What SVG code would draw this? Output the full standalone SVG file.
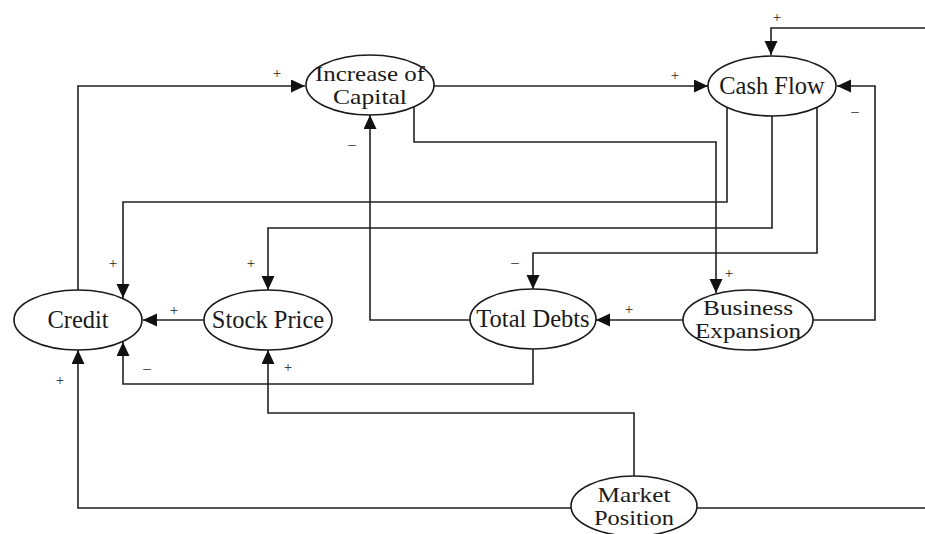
<svg xmlns="http://www.w3.org/2000/svg" width="925" height="534" viewBox="0 0 925 534">
  <style>
    .node ellipse { fill: #ffffff; stroke: #1a1a1a; stroke-width: 1.6; }
    .node text { font-family: "Liberation Serif", "Times New Roman", serif; font-size: 24.5px; fill: #1a1a1a; text-anchor: middle; }
    .node text.two { font-size: 21.5px; }
    .edge { fill: none; stroke: #222222; stroke-width: 1.6; marker-end: url(#arrow); }
    .sign { font-family: "Liberation Serif", "Times New Roman", serif; font-size: 15px; fill: #222222; text-anchor: middle; }
  </style>
  <defs>
    <marker id="arrow" markerUnits="userSpaceOnUse" markerWidth="15" markerHeight="14" refX="14" refY="6.5" orient="auto">
      <path d="M0,0 L14,6.5 L0,13 Z" fill="#111111"/>
    </marker>
  </defs>
  <rect width="925" height="534" fill="#ffffff"/>

  <!-- causal links -->
  <g id="connectors">
    <path class="edge" d="M78,290 V86 H305"/>
    <path class="edge" d="M434,86 H708"/>
    <path class="edge" d="M414,107 V142 H716 V293"/>
    <path class="edge" d="M727,107 V202 H123 V298"/>
    <path class="edge" d="M772,116 V228 H268 V290"/>
    <path class="edge" d="M817,107 V253 H533 V289"/>
    <path class="edge" d="M813,320 H875 V86 H837"/>
    <path class="edge" d="M683,320 H596"/>
    <path class="edge" d="M470,320 H370 V115"/>
    <path class="edge" d="M204,320 H143"/>
    <path class="edge" d="M533,349 V384 H123 V342"/>
    <path class="edge" d="M634,477 V413 H268 V350"/>
    <path class="edge" d="M571,508 H78 V350"/>
    <path class="edge" d="M697,508 H935 V28 H771 V55"/>
  </g>

  <!-- polarity signs -->
  <g id="signs">
    <text class="sign" x="277" y="78">+</text>
    <text class="sign" x="675" y="80">+</text>
    <text class="sign" x="777" y="22">+</text>
    <text class="sign" x="855" y="116">–</text>
    <text class="sign" x="352" y="149">–</text>
    <text class="sign" x="113" y="268">+</text>
    <text class="sign" x="251" y="268">+</text>
    <text class="sign" x="515" y="267">–</text>
    <text class="sign" x="729" y="278">+</text>
    <text class="sign" x="629" y="314">+</text>
    <text class="sign" x="174" y="315">+</text>
    <text class="sign" x="147" y="373">–</text>
    <text class="sign" x="288" y="372">+</text>
    <text class="sign" x="60" y="385">+</text>
  </g>

  <g id="increase-of-capital" class="node">
    <ellipse cx="370" cy="85" rx="64" ry="30"/>
    <text class="two" x="370" y="81" textLength="110" lengthAdjust="spacingAndGlyphs">Increase of</text>
    <text class="two" x="370" y="104" textLength="74" lengthAdjust="spacingAndGlyphs">Capital</text>
  </g>
  <g id="cash-flow" class="node">
    <ellipse cx="772" cy="86" rx="64" ry="30"/>
    <text x="772" y="94">Cash Flow</text>
  </g>
  <g id="credit" class="node">
    <ellipse cx="78" cy="320" rx="64" ry="30"/>
    <text x="78" y="328">Credit</text>
  </g>
  <g id="stock-price" class="node">
    <ellipse cx="268" cy="320" rx="64" ry="30"/>
    <text x="268" y="328">Stock Price</text>
  </g>
  <g id="total-debts" class="node">
    <ellipse cx="533" cy="319" rx="63" ry="30"/>
    <text x="533" y="327">Total Debts</text>
  </g>
  <g id="business-expansion" class="node">
    <ellipse cx="748" cy="320" rx="65" ry="30"/>
    <text class="two" x="748" y="315" textLength="90" lengthAdjust="spacingAndGlyphs">Business</text>
    <text class="two" x="748" y="338" textLength="106" lengthAdjust="spacingAndGlyphs">Expansion</text>
  </g>
  <g id="market-position" class="node">
    <ellipse cx="634" cy="506" rx="63" ry="30"/>
    <text class="two" x="634" y="502" textLength="73" lengthAdjust="spacingAndGlyphs">Market</text>
    <text class="two" x="634" y="525" textLength="80" lengthAdjust="spacingAndGlyphs">Position</text>
  </g>
</svg>
